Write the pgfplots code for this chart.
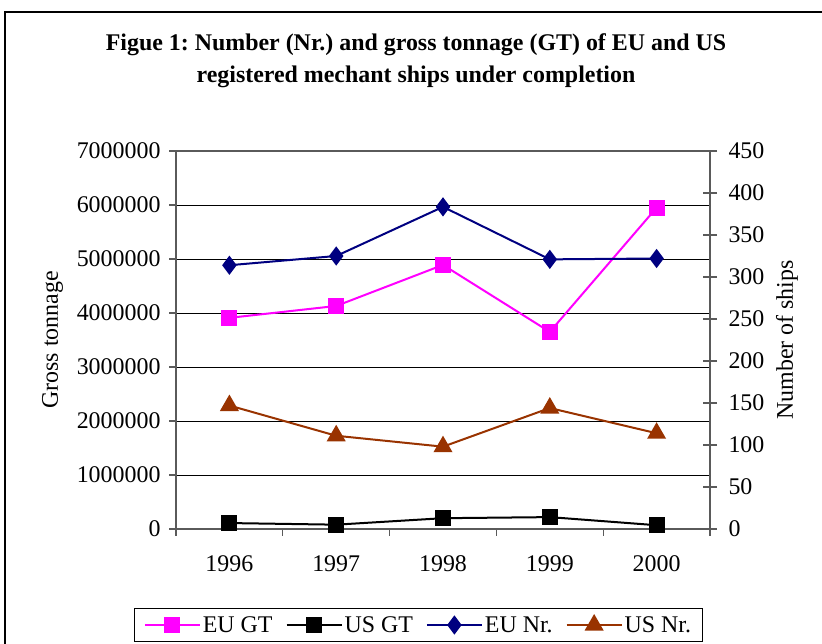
\documentclass[border=0pt]{standalone}
\usepackage{fontspec}
\setmainfont{Liberation Serif}
\usepackage{pgfplots}
\pgfplotsset{compat=1.18}
\definecolor{euGT}{RGB}{255,0,255}
\definecolor{euNr}{RGB}{0,0,128}
\definecolor{usNr}{RGB}{153,51,0}
\definecolor{axgray}{RGB}{90,90,90}
\pgfplotsset{
  every axis/.append style={
    scale only axis, width=534bp, height=378bp,
    at={(176bp,115bp)}, anchor=south west,
    xmin=-0.5, xmax=4.5,
    /pgf/number format/assume math mode=true,
    tick label style={font=\fontsize{24}{28}\selectfont},
    label style={font=\fontsize{24}{28}\selectfont},
  },
}
\begin{document}
\frenchspacing
\begin{tikzpicture}[x=1bp,y=1bp]
\useasboundingbox (0,0) rectangle (822,644);
\draw[black, line width=1.2bp] (5,0) -- (5,632) -- (822,632);
\node[font=\fontsize{24}{28}\selectfont\bfseries] at (416,599) {Figue 1: Number (Nr.) and gross tonnage (GT) of EU and US};
\node[font=\fontsize{24}{28}\selectfont\bfseries] at (416,567) {registered mechant ships under completion};

\begin{axis}[
  ymin=0, ymax=7000000,
  ytick={0,1000000,...,7000000},
  scaled y ticks=false,
  yticklabel style={/pgf/number format/fixed, /pgf/number format/1000 sep={}, xshift=-5bp},
  ytick pos=left, xtick pos=bottom,
  tick align=outside,
  major tick length=7bp,
  xtick={0,1,2,3,4},
  xticklabels={1996,1997,1998,1999,2000},
  major x tick style={draw=none},
  minor xtick={-0.5,0.5,1.5,2.5,3.5,4.5},
  minor tick length=7bp,
  xticklabel style={yshift=-16bp},
  ymajorgrids,
  grid style={black, line width=0.9bp},
  axis line style={axgray, line width=1.5bp},
  tick style={axgray, line width=1.2bp},
  ylabel={Gross tonnage},
  ylabel style={at={(axis description cs:-0.231,0.5)}, anchor=center},
]
\addplot[euGT, line width=2bp, mark=square*, mark size=7bp] coordinates {
(0,3910000) (1,4130000) (2,4890000) (3,3650000) (4,5950000)};
\addplot[black, line width=2bp, mark=square*, mark size=7bp] coordinates {
(0,110000) (1,80000) (2,200000) (3,220000) (4,70000)};
\end{axis}

\begin{axis}[
  ymin=0, ymax=450,
  ytick={0,50,...,450},
  axis y line*=right, axis x line=none,
  tick align=center,
  major tick length=14bp,
  yticklabel style={xshift=8bp},
  axis line style={axgray, line width=1.5bp},
  tick style={axgray, line width=1.2bp},
  ylabel={Number of ships},
  ylabel style={at={(axis description cs:1.144,0.5)}, anchor=center},
  legend columns=4,
  legend image code/.code={\draw[mark repeat=2,mark phase=2,#1] plot coordinates {(0bp,0bp) (27.5bp,0bp) (55bp,0bp)};},
  legend style={at={(axis description cs:0.454,-0.254)}, anchor=center,
    draw=black, line width=0.8bp, font=\fontsize{24}{28}\selectfont,
    inner xsep=9bp, inner ysep=6bp,
    /tikz/every even column/.append style={column sep=11bp}},
]
\addlegendimage{euGT, line width=2bp, mark=square*, mark size=7bp}
\addlegendentry{EU GT}
\addlegendimage{black, line width=2bp, mark=square*, mark size=7bp}
\addlegendentry{US GT}
\addplot[euNr, line width=2bp, mark=diamond*, mark size=8bp] coordinates {
(0,314) (1,325) (2,383.5) (3,321) (4,322)};
\addlegendentry{EU Nr.}
\addplot[usNr, line width=2bp, mark=triangle*, mark size=9bp] coordinates {
(0,147) (1,111) (2,98) (3,144) (4,114)};
\addlegendentry{US Nr.}
\end{axis}
\end{tikzpicture}
\end{document}
